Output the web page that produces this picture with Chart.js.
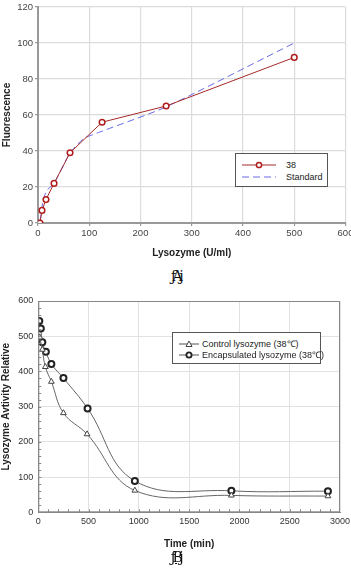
<!DOCTYPE html>
<html>
<head>
<meta charset="utf-8">
<script src="https://cdn.jsdelivr.net/npm/chart.js@4.4.0/dist/chart.umd.min.js"></script>
<style>
  html, body { margin: 0; padding: 0; background: #fff; }
  body { width: 351px; height: 568px; position: relative; overflow: hidden; font-family: "Liberation Sans", Arial, sans-serif; }
  .box { position: absolute; left: 0; width: 351px; }
  .legend { position: absolute; background: #fff; border: 1px solid #555; box-sizing: border-box; }
  .legend .row { position: absolute; left: 0; height: 12px; white-space: nowrap; }
  .legend svg { position: absolute; top: 0; }
  .legend span { position: absolute; top: 0; line-height: 12px; color: #222; }
  .cap { position: absolute; width: 351px; text-align: center; font-family: "DejaVu Serif", serif; font-size: 14px; letter-spacing: -3.5px; color: #111; }
</style>
</head>
<body>
<div class="box" style="top:0;height:262px"><canvas id="fluorChart"></canvas></div>
<div class="box" style="top:285px;height:265px"><canvas id="activityChart"></canvas></div>

<div class="legend" style="left:235px;top:153px;width:93px;height:34px">
  <div class="row" style="top:5px">
    <svg width="40" height="12"><line x1="6" y1="6" x2="41" y2="6" stroke="#a52a2a" stroke-width="1"/><circle cx="23" cy="6" r="2.6" fill="#fff" stroke="#b01c1c" stroke-width="1.5"/></svg>
    <span style="left:50px;font-size:9px">38</span>
  </div>
  <div class="row" style="top:17px">
    <svg width="40" height="12"><line x1="6" y1="6" x2="40" y2="6" stroke="#6a6ae8" stroke-width="1" stroke-dasharray="7,4"/></svg>
    <span style="left:50px;font-size:9px">Standard</span>
  </div>
</div>

<div class="legend" style="left:172px;top:332px;width:149px;height:32px">
  <div class="row" style="top:5px">
    <svg width="30" height="12"><line x1="6" y1="6" x2="26" y2="6" stroke="#555" stroke-width="1"/><polygon points="16,3 19,8.5 13,8.5" fill="#fff" stroke="#444" stroke-width="1"/></svg>
    <span style="left:29px;font-size:9px">Control lysozyme (38℃)</span>
  </div>
  <div class="row" style="top:16px">
    <svg width="30" height="12"><line x1="6" y1="6" x2="26" y2="6" stroke="#555" stroke-width="1"/><circle cx="16" cy="6" r="2.6" fill="#fff" stroke="#222" stroke-width="1.8"/></svg>
    <span style="left:29px;font-size:9px">Encapsulated lysozyme (38℃)</span>
  </div>
</div>

<div class="cap" style="top:268px">ƒAj</div>
<div class="cap" style="top:549px;text-decoration:underline">ƒBj</div>

<script>
// chart A: fluorescence vs lysozyme
const concUml = [3.9, 7.8, 15.6, 31.3, 62.5, 125, 250, 500];
const fluor38 = [0, 7, 13, 22, 39, 56, 65, 92];
const stdConc = [3.9, 10, 17, 31.3, 62.5, 90, 125, 250, 500];
const stdFluor = [1, 12.5, 18, 22, 39, 47, 51, 64.5, 100];

// chart B: relative activity vs time
const ctrlTime = [15, 40, 70, 130, 250, 485, 960, 1920, 2880];
const ctrlActivity = [497, 462, 413, 371, 282, 222, 62, 48, 46];
const encTime = [10, 25, 40, 75, 130, 250, 490, 960, 1920, 2880];
const encActivity = [543, 522, 483, 456, 421, 381, 295, 89, 61, 60];

const fluorTicks = { min: 0, max: 600, step: 100 };
const fluorYTicks = { min: 0, max: 120, step: 20 };
const timeTicks = { min: 0, max: 3000, step: 500 };
const activityTicks = { min: 0, max: 600, step: 100 };

const toPoints = (xs, ys) => xs.map((x, i) => ({ x, y: ys[i] }));
const plain = (v) => String(v);

const noPad = (s) => { s.paddingLeft = 0; s.paddingRight = 0; s.paddingTop = 0; s.paddingBottom = 0; };

const tickFontA = { family: '"Liberation Sans", Arial, sans-serif', size: 9.5 };
const titleFont = { family: '"Liberation Sans", Arial, sans-serif', size: 10, weight: 'bold' };

new Chart(document.getElementById('fluorChart'), {
    type: 'line',
    data: {
        datasets: [
            {
                label: '38',
                data: toPoints(concUml, fluor38),
                borderColor: '#a52a2a',
                borderWidth: 1,
                pointRadius: 2.8,
                pointBorderWidth: 1.5,
                pointBorderColor: '#b01c1c',
                pointBackgroundColor: '#fff',
                tension: 0,
            },
            {
                label: 'Standard',
                data: toPoints(stdConc, stdFluor),
                borderColor: '#6a6ae8',
                borderWidth: 1,
                borderDash: [7, 4],
                pointRadius: 0,
                tension: 0.2,
            },
        ],
    },
    options: {
        responsive: true,
        maintainAspectRatio: false,
        animation: false,
        devicePixelRatio: 1,
        layout: { padding: { top: 7, right: 4, left: 0, bottom: 0 } },
        scales: {
            x: {
                type: 'linear',
                min: fluorTicks.min,
                max: fluorTicks.max,
                ticks: { stepSize: fluorTicks.step, color: '#444', font: tickFontA, padding: 2, maxRotation: 0, callback: plain },
                grid: { color: '#dcdcdc', lineWidth: 1.2, tickLength: 3, tickColor: '#999' },
                border: { color: '#999', width: 2 },
                title: { display: true, text: 'Lysozyme (U/ml)', color: '#222', font: titleFont, padding: { top: 0, bottom: 3 } },
                afterFit: (s) => { s.height = 39; noPad(s); },
            },
            y: {
                min: fluorYTicks.min,
                max: fluorYTicks.max,
                ticks: { stepSize: fluorYTicks.step, color: '#444', font: tickFontA, padding: 2, callback: plain },
                grid: { color: '#dcdcdc', lineWidth: 1.2, tickLength: 3, tickColor: '#999' },
                border: { color: '#999', width: 2 },
                title: { display: true, text: 'Fluorescence', color: '#222', font: titleFont, padding: { top: 1, bottom: 0 } },
                afterFit: (s) => { s.width = 38; noPad(s); },
            },
        },
        plugins: { legend: { display: false }, tooltip: { enabled: false } },
    },
});

// small inside ticks and a frame round the plot, as in the scanned figure
const frameAndMinor = {
    id: 'frameAndMinor',
    afterDraw(chart) {
        const { ctx, chartArea: a, scales: { x, y } } = chart;
        ctx.save();
        ctx.strokeStyle = '#888';
        ctx.lineWidth = 1;
        ctx.strokeRect(a.left + 0.5, a.top + 0.5, a.right - a.left - 1, a.bottom - a.top - 1);
        ctx.beginPath();
        for (let v = 100; v < timeTicks.max; v += 100) {
            const px = Math.round(x.getPixelForValue(v)) + 0.5;
            ctx.moveTo(px, a.bottom);
            ctx.lineTo(px, a.bottom - 3);
        }
        for (let v = 20; v < activityTicks.max; v += 20) {
            const py = Math.round(y.getPixelForValue(v)) + 0.5;
            ctx.moveTo(a.left, py);
            ctx.lineTo(a.left + 3, py);
        }
        ctx.stroke();
        ctx.restore();
    },
};

const tickFontB = { family: '"Liberation Sans", Arial, sans-serif', size: 9 };

new Chart(document.getElementById('activityChart'), {
    type: 'line',
    data: {
        datasets: [
            {
                label: 'Control lysozyme (38℃)',
                data: toPoints(ctrlTime, ctrlActivity),
                borderColor: '#666',
                borderWidth: 1,
                pointStyle: 'triangle',
                pointRadius: 3.3,
                pointBorderWidth: 1,
                pointBorderColor: '#444',
                pointBackgroundColor: '#fff',
                tension: 0.4,
            },
            {
                label: 'Encapsulated lysozyme (38℃)',
                data: toPoints(encTime, encActivity),
                borderColor: '#666',
                borderWidth: 1,
                pointRadius: 3,
                pointBorderWidth: 2,
                pointBorderColor: '#222',
                pointBackgroundColor: '#fff',
                tension: 0.4,
            },
        ],
    },
    options: {
        responsive: true,
        maintainAspectRatio: false,
        animation: false,
        devicePixelRatio: 1,
        layout: { padding: { top: 16, right: 11, left: 0, bottom: 0 } },
        scales: {
            x: {
                type: 'linear',
                min: timeTicks.min,
                max: timeTicks.max,
                ticks: { stepSize: timeTicks.step, color: '#333', font: tickFontB, padding: 4, maxRotation: 0, callback: plain },
                grid: { color: '#e2e2e2', lineWidth: 1, drawTicks: false },
                border: { color: '#888', width: 1 },
                title: { display: true, text: 'Time (min)', color: '#222', font: titleFont, padding: { top: 0, bottom: 0 } },
                afterFit: (s) => { s.height = 37.7; noPad(s); },
            },
            y: {
                min: activityTicks.min,
                max: activityTicks.max,
                ticks: { stepSize: activityTicks.step, color: '#333', font: tickFontB, padding: 5, callback: plain },
                grid: { color: '#e2e2e2', lineWidth: 1, drawTicks: false },
                border: { color: '#888', width: 1 },
                title: { display: true, text: 'Lysozyme Avtivity Relative', color: '#222', font: titleFont, padding: { top: 0, bottom: 0 } },
                afterFit: (s) => { s.width = 38.3; noPad(s); },
            },
        },
        plugins: { legend: { display: false }, tooltip: { enabled: false } },
    },
    plugins: [frameAndMinor],
});
</script>
</body>
</html>
